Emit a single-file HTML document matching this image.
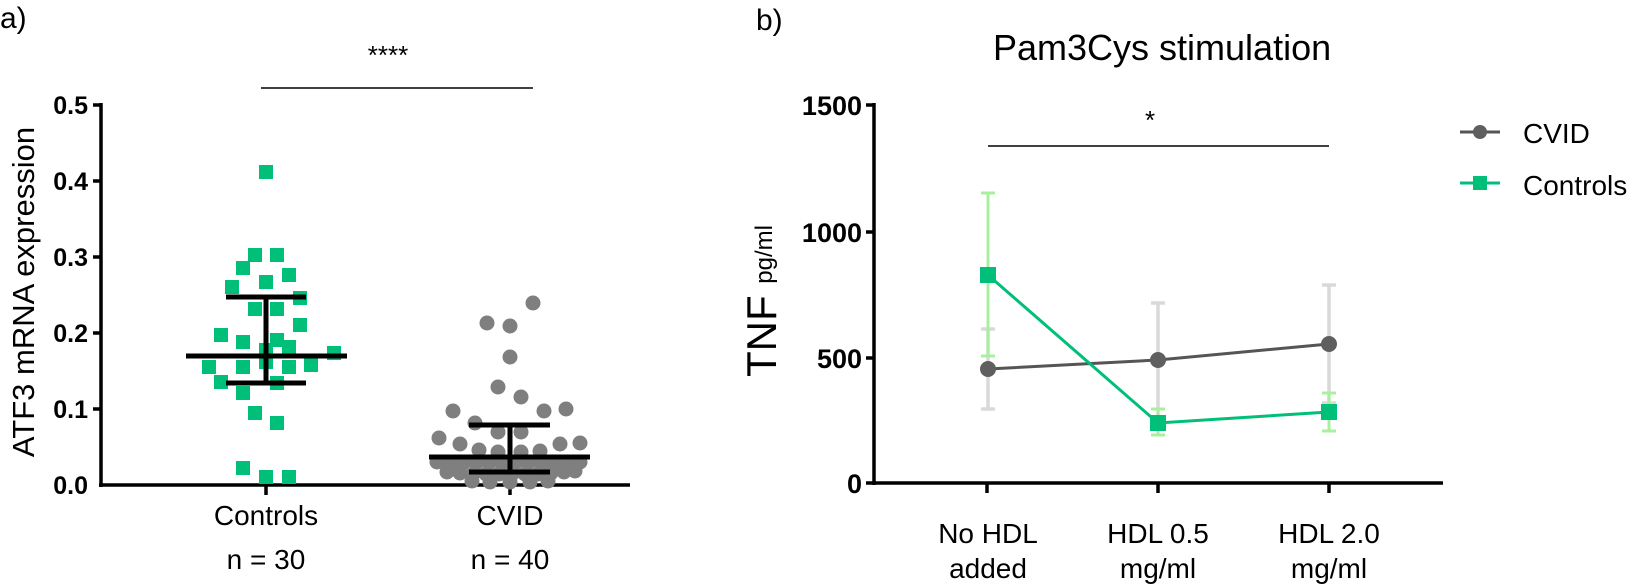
<!DOCTYPE html>
<html><head><meta charset="utf-8"><style>
html,body{margin:0;padding:0;background:#fff;}
svg{display:block;font-family:"Liberation Sans",Arial,sans-serif;}
</style></head><body>
<svg width="1637" height="587" viewBox="0 0 1637 587" xmlns="http://www.w3.org/2000/svg">
<text x="0" y="28" font-size="30">a)</text>
<text x="756" y="30" font-size="30">b)</text>

<!-- Panel A -->
<text x="388" y="64" font-size="26" text-anchor="middle">****</text>
<line x1="261" y1="88" x2="533" y2="88" stroke="#000" stroke-width="1.5"/>
<g stroke="#000" stroke-width="3.5">
<line x1="101" y1="103" x2="101" y2="487"/>
<line x1="99" y1="485" x2="630" y2="485"/>
<line x1="93" y1="105" x2="101" y2="105"/>
<line x1="93" y1="181" x2="101" y2="181"/>
<line x1="93" y1="257" x2="101" y2="257"/>
<line x1="93" y1="333" x2="101" y2="333"/>
<line x1="93" y1="409" x2="101" y2="409"/>
<line x1="266" y1="485" x2="266" y2="495"/>
<line x1="510" y1="485" x2="510" y2="495"/>
</g>
<g font-size="25" font-weight="bold" text-anchor="end">
<text x="88" y="114">0.5</text><text x="88" y="190">0.4</text><text x="88" y="266">0.3</text>
<text x="88" y="342">0.2</text><text x="88" y="418">0.1</text><text x="88" y="494">0.0</text>
</g>
<text transform="translate(34,292) rotate(-90)" font-size="31" text-anchor="middle">ATF3 mRNA expression</text>
<g font-size="28" text-anchor="middle">
<text x="266" y="525">Controls</text><text x="510" y="525">CVID</text>
<text x="266" y="569">n = 30</text><text x="510" y="569">n = 40</text>
</g>
<g fill="#00bf78">
<rect x="259" y="165" width="14" height="14"/><rect x="248" y="248" width="14" height="14"/><rect x="270" y="248" width="14" height="14"/>
<rect x="236" y="261" width="14" height="14"/><rect x="282" y="268" width="14" height="14"/><rect x="225" y="280" width="14" height="14"/>
<rect x="259" y="275" width="14" height="14"/><rect x="293" y="291" width="14" height="14"/><rect x="248" y="302" width="14" height="14"/>
<rect x="270" y="302" width="14" height="14"/><rect x="293" y="318" width="14" height="14"/><rect x="214" y="328" width="14" height="14"/>
<rect x="236" y="335" width="14" height="14"/><rect x="270" y="333" width="14" height="14"/><rect x="327" y="346" width="14" height="14"/>
<rect x="202" y="360" width="14" height="14"/><rect x="236" y="360" width="14" height="14"/><rect x="259" y="355" width="14" height="14"/>
<rect x="282" y="360" width="14" height="14"/><rect x="304" y="358" width="14" height="14"/><rect x="214" y="375" width="14" height="14"/>
<rect x="270" y="376" width="14" height="14"/><rect x="236" y="386" width="14" height="14"/><rect x="248" y="406" width="14" height="14"/>
<rect x="270" y="416" width="14" height="14"/><rect x="236" y="461" width="14" height="14"/><rect x="259" y="470" width="14" height="14"/>
<rect x="282" y="470" width="14" height="14"/><rect x="259" y="343" width="14" height="14"/><rect x="282" y="340" width="14" height="14"/>
</g>
<g stroke="#000" stroke-width="5">
<line x1="186" y1="356" x2="347" y2="356"/><line x1="226" y1="297" x2="306" y2="297"/>
<line x1="226" y1="383" x2="306" y2="383"/><line x1="266" y1="297" x2="266" y2="383"/>
</g>
<g fill="#7f7f7f">
<circle cx="533" cy="303" r="7.5"/><circle cx="487" cy="323" r="7.5"/><circle cx="510" cy="326" r="7.5"/>
<circle cx="510" cy="357" r="7.5"/><circle cx="498" cy="387" r="7.5"/><circle cx="521" cy="397" r="7.5"/>
<circle cx="453" cy="411" r="7.5"/><circle cx="544" cy="411" r="7.5"/><circle cx="566" cy="409" r="7.5"/>
<circle cx="475" cy="423" r="7.5"/><circle cx="498" cy="432" r="7.5"/><circle cx="521" cy="432" r="7.5"/>
<circle cx="439" cy="438" r="7.5"/><circle cx="460" cy="444" r="7.5"/><circle cx="479" cy="450" r="7.5"/>
<circle cx="498" cy="452" r="7.5"/><circle cx="521" cy="452" r="7.5"/><circle cx="540" cy="451" r="7.5"/>
<circle cx="560" cy="444" r="7.5"/><circle cx="580" cy="443" r="7.5"/>
<circle cx="437" cy="462" r="7.5"/><circle cx="450" cy="463" r="7.5"/><circle cx="463" cy="463" r="7.5"/><circle cx="476" cy="463" r="7.5"/>
<circle cx="489" cy="463" r="7.5"/><circle cx="502" cy="463" r="7.5"/><circle cx="515" cy="463" r="7.5"/><circle cx="528" cy="463" r="7.5"/>
<circle cx="541" cy="463" r="7.5"/><circle cx="554" cy="463" r="7.5"/><circle cx="567" cy="463" r="7.5"/><circle cx="580" cy="462" r="7.5"/>
<circle cx="447" cy="472" r="7.5"/><circle cx="460" cy="473" r="7.5"/><circle cx="473" cy="474" r="7.5"/><circle cx="486" cy="474" r="7.5"/>
<circle cx="499" cy="474" r="7.5"/><circle cx="512" cy="474" r="7.5"/><circle cx="525" cy="474" r="7.5"/><circle cx="538" cy="474" r="7.5"/>
<circle cx="551" cy="473" r="7.5"/><circle cx="564" cy="472" r="7.5"/><circle cx="575" cy="471" r="7.5"/>
<circle cx="472" cy="481" r="7.5"/><circle cx="490" cy="482" r="7.5"/><circle cx="510" cy="482" r="7.5"/><circle cx="530" cy="482" r="7.5"/><circle cx="548" cy="481" r="7.5"/>
</g>
<g stroke="#000" stroke-width="5">
<line x1="429" y1="457" x2="590" y2="457"/><line x1="469" y1="425" x2="550" y2="425"/>
<line x1="469" y1="472" x2="550" y2="472"/><line x1="510" y1="425" x2="510" y2="472"/>
</g>

<!-- Panel B -->
<text x="993" y="60" font-size="36">Pam3Cys stimulation</text>
<text x="1150" y="129" font-size="26" text-anchor="middle">*</text>
<line x1="988" y1="146" x2="1329" y2="146" stroke="#000" stroke-width="1.5"/>
<g stroke="#000" stroke-width="3.5">
<line x1="874" y1="103" x2="874" y2="485"/>
<line x1="866" y1="483" x2="1443" y2="483"/>
<line x1="866" y1="105" x2="874" y2="105"/>
<line x1="866" y1="232" x2="874" y2="232"/>
<line x1="866" y1="358" x2="874" y2="358"/>
<line x1="987" y1="483" x2="987" y2="493"/>
<line x1="1158" y1="483" x2="1158" y2="493"/>
<line x1="1329" y1="483" x2="1329" y2="493"/>
</g>
<g font-size="27" font-weight="bold" text-anchor="end">
<text x="862" y="115">1500</text><text x="862" y="242">1000</text><text x="862" y="368">500</text><text x="862" y="493">0</text>
</g>
<text transform="translate(776,377) rotate(-90)" font-size="42">TNF <tspan font-size="24" dy="-4">pg/ml</tspan></text>
<g font-size="28" text-anchor="middle">
<text x="988" y="543">No HDL</text><text x="988" y="578">added</text>
<text x="1158" y="543">HDL 0.5</text><text x="1158" y="578">mg/ml</text>
<text x="1329" y="543">HDL 2.0</text><text x="1329" y="578">mg/ml</text>
</g>
<g stroke="#d9d9d9" stroke-width="3.5">
<line x1="988" y1="329" x2="988" y2="409"/><line x1="981" y1="329" x2="995" y2="329"/><line x1="981" y1="409" x2="995" y2="409"/>
<line x1="1158" y1="303" x2="1158" y2="420"/><line x1="1151" y1="303" x2="1165" y2="303"/>
<line x1="1329" y1="285" x2="1329" y2="403"/><line x1="1322" y1="285" x2="1336" y2="285"/><line x1="1322" y1="403" x2="1336" y2="403"/>
</g>
<g stroke="#a8f0a0" stroke-width="3">
<line x1="988" y1="193" x2="988" y2="356"/><line x1="981" y1="193" x2="995" y2="193"/><line x1="981" y1="356" x2="995" y2="356"/>
<line x1="1158" y1="409" x2="1158" y2="435"/><line x1="1151" y1="409" x2="1165" y2="409"/><line x1="1151" y1="435" x2="1165" y2="435"/>
<line x1="1329" y1="393" x2="1329" y2="431"/><line x1="1322" y1="393" x2="1336" y2="393"/><line x1="1322" y1="431" x2="1336" y2="431"/>
</g>
<polyline points="988,369 1158,360 1329,344" fill="none" stroke="#555" stroke-width="3"/>
<g fill="#5f5f5f"><circle cx="988" cy="369" r="8"/><circle cx="1158" cy="360" r="8"/><circle cx="1329" cy="344" r="8"/></g>
<polyline points="988,275 1158,423 1329,412" fill="none" stroke="#00bf78" stroke-width="3"/>
<g fill="#00bf78"><rect x="980" y="267" width="16" height="16"/><rect x="1150" y="415" width="16" height="16"/><rect x="1321" y="404" width="16" height="16"/></g>
<line x1="1460" y1="132" x2="1500" y2="132" stroke="#555" stroke-width="3"/>
<circle cx="1480" cy="132" r="7" fill="#5f5f5f"/>
<text x="1523" y="143" font-size="28">CVID</text>
<line x1="1460" y1="183" x2="1500" y2="183" stroke="#00bf78" stroke-width="3"/>
<rect x="1473" y="176" width="14" height="14" fill="#00bf78"/>
<text x="1523" y="195" font-size="28">Controls</text>
</svg>
</body></html>
